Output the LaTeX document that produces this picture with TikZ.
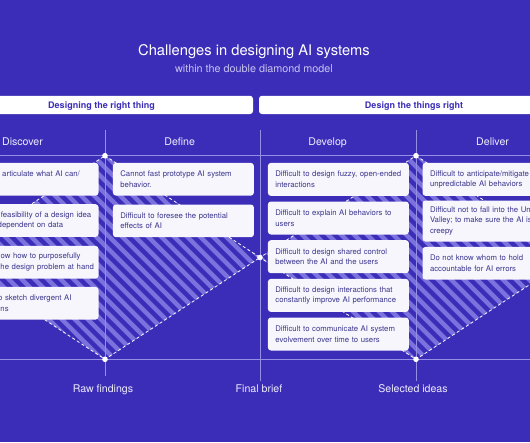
\documentclass[tikz,border=0pt]{standalone}
\usepackage{fontspec}
\setmainfont{TeX Gyre Heros}
\definecolor{bgblue}{RGB}{59,45,184}
\definecolor{stripe}{RGB}{124,114,222}
\definecolor{gridcol}{RGB}{150,142,228}
\definecolor{cardfill}{RGB}{247,246,253}
\definecolor{cardtext}{RGB}{58,54,140}
\definecolor{subtext}{RGB}{200,195,242}
\definecolor{labeltext}{RGB}{238,236,252}
\newcommand{\cutat}[1]{\hspace*{#1pt}}
\tikzset{
  card/.style={fill=cardfill, rounded corners=3pt, anchor=north west,
    minimum width=141pt, minimum height=32.7pt, text width=126pt,
    inner xsep=7.5pt, inner ysep=0pt, align=left, text=cardtext,
    font=\fontsize{7.75}{10.7}\selectfont},
  cutcard/.style={card, text width=134pt, inner xsep=3.5pt},
  bar/.style={fill=white, rounded corners=3pt, minimum height=18.3pt,
    inner sep=0pt, text height=6.6pt, text depth=0pt, text=bgblue,
    font=\fontsize{9}{10}\selectfont\bfseries},
  phase/.style={anchor=base, text=labeltext, font=\fontsize{10.6}{12}\selectfont},
  outline/.style={white, line width=0.8pt, dash pattern=on 3pt off 2.5pt},
  gridrule/.style={gridcol, line width=0.8pt},
  dot/.style={circle, fill=white, inner sep=0pt, minimum size=5.6pt}
}
\begin{document}
\begin{tikzpicture}[x=1pt, y=-1pt]
  \fill[bgblue] (0,0) rectangle (530,442);
  \useasboundingbox (0,0) rectangle (530,442);
  % corners of the two diamonds
  \coordinate (an) at (105,155.7);
  \coordinate (as) at (105,359.3);
  \coordinate (aw) at (-50,257.5);
  \coordinate (mid) at (260,257.5);
  \coordinate (bn) at (416,155.7);
  \coordinate (bs) at (416,359.3);
  \coordinate (be) at (571,257.5);
  % hatched diamonds
  \begin{scope}
    \clip (an) -- (mid) -- (as) -- (aw) -- cycle
          (bn) -- (be) -- (bs) -- (mid) -- cycle;
    \fill[stripe] (-60,150) rectangle (580,365);
    \foreach \s in {-280,-267,...,560}
      \draw[bgblue, line width=4.4pt] (\s,140) -- ++(240,240);
  \end{scope}
  \draw[outline] (an) -- (mid) -- (as) -- (aw) -- cycle;
  \draw[outline] (bn) -- (be) -- (bs) -- (mid) -- cycle;
  % grid
  \draw[gridrule] (0,155.7) -- (530,155.7);
  \draw[gridrule] (0,359.3) -- (530,359.3);
  \draw[gridrule] (105,130) -- (105,375.5);
  \draw[gridrule] (260,130) -- (260,380.6);
  \draw[gridrule] (416,130) -- (416,380.6);
  \foreach \c in {an,as,mid,bn,bs}
    \node[dot] (dot-\c) at (\c) {};
  % titles
  \node[anchor=base, text=white, font=\fontsize{14.7}{17}\selectfont]
    (title) at (254,55.3) {Challenges in designing AI systems};
  \node[anchor=base, text=subtext, font=\fontsize{10.8}{13}\selectfont]
    (subtitle) at (254,72) {within the double diamond model};
  \node[bar, minimum width=303pt] (rightthing) at (101.5,104.9) {Designing the right thing};
  \node[bar, minimum width=310pt] (thingsright) at (414,104.9) {Design the things right};
  % phases
  \node[phase] (discover) at (22.5,145.8) {Discover};
  \node[phase] (define) at (179.7,145.8) {Define};
  \node[phase] (develop) at (327.6,145.8) {Develop};
  \node[phase] (deliver) at (492.6,145.8) {Deliver};
  % Discover
  \node[cutcard] (dc1) at (-42.7,162.7) {\cutat{41.2}articulate what AI can/\\\mbox{}};
  \node[cutcard] (dc2) at (-42.7,204) {\cutat{39.9}feasibility of a design idea\\\cutat{36.7}dependent on data};
  \node[cutcard] (dc3) at (-42.7,245.7) {\cutat{39.7}ow how to purposefully\\\cutat{39.5}he design problem at hand};
  \node[cutcard] (dc4) at (-42.7,286.7) {\cutat{37.2}o sketch divergent AI\\\cutat{39.5}ns};
  % Define
  \node[card] (df1) at (112.7,162.7) {Cannot fast prototype AI system\\behavior.};
  \node[card] (df2) at (112.7,204.3) {Difficult to foresee the potential\\effects of AI};
  % Develop
  \node[card, minimum height=33pt] (dv1) at (267.7,162.7) {Difficult to design fuzzy, open-ended\\interactions};
  \node[card, minimum height=33pt] (dv2) at (267.7,201.3) {Difficult to explain AI behaviors to\\users};
  \node[card, minimum height=33pt] (dv3) at (267.7,240) {Difficult to design shared control\\between the AI and the users};
  \node[card, minimum height=33pt] (dv4) at (267.7,278.7) {Difficult to design interactions that\\constantly improve AI performance};
  \node[card, minimum height=33pt] (dv5) at (267.7,317.3) {Difficult to communicate AI system\\evolvement over time to users};
  % Deliver
  \node[card, minimum height=33pt] (dl1) at (422.3,162.7) {Difficult to anticipate/mitigate\\unpredictable AI behaviors};
  \node[card, minimum height=41pt] (dl2) at (422.3,200.3) {Difficult not to fall into the Un\\Valley; to make sure the AI is\\creepy};
  \node[card] (dl3) at (422.3,246.7) {Do not know whom to hold\\accountable for AI errors};
  % outcomes
  \node[phase] (rawfindings) at (103,392.8) {Raw findings};
  \node[phase] (finalbrief) at (259,392.8) {Final brief};
  \node[phase] (selected) at (413,392.8) {Selected ideas};
\end{tikzpicture}
\end{document}
